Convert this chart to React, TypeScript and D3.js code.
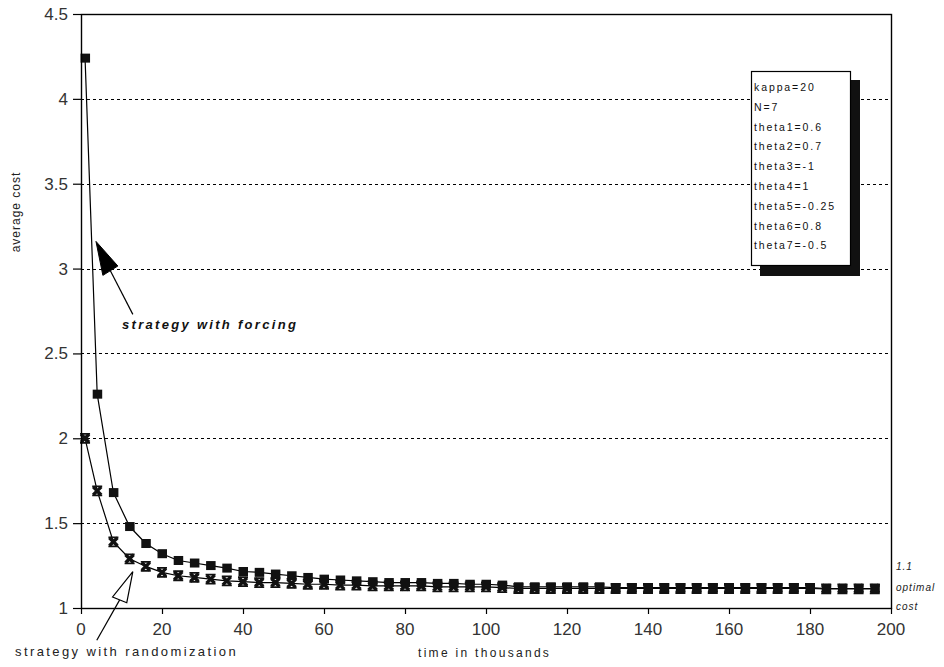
import React from 'react';
import * as d3 from 'd3';

const times = [1, 4, 8, 12, 16, 20, 24, 28, 32, 36, 40, 44, 48, 52, 56, 60, 64, 68, 72, 76, 80, 84, 88, 92, 96, 100,
    104, 108, 112, 116, 120, 124, 128, 132, 136, 140, 144, 148, 152, 156, 160, 164, 168, 172, 176, 180, 184, 188, 192, 196];

const forcing = [4.24, 2.26, 1.68, 1.48, 1.38, 1.32, 1.28, 1.265, 1.25, 1.235, 1.215, 1.21, 1.2, 1.19, 1.18, 1.17,
    1.165, 1.16, 1.155, 1.15, 1.15, 1.15, 1.145, 1.145, 1.14, 1.14, 1.135, 1.125, 1.125, 1.125, 1.125, 1.125, 1.125,
    1.12, 1.12, 1.12, 1.12, 1.12, 1.12, 1.12, 1.12, 1.12, 1.12, 1.12, 1.12, 1.12, 1.115, 1.115, 1.115, 1.115];

const randomization = [2.0, 1.69, 1.39, 1.29, 1.245, 1.21, 1.19, 1.18, 1.17, 1.16, 1.155, 1.15, 1.15, 1.145, 1.14,
    1.14, 1.135, 1.135, 1.13, 1.13, 1.13, 1.13, 1.125, 1.125, 1.125, 1.125, 1.12, 1.115, 1.115, 1.115, 1.115, 1.115,
    1.115, 1.115, 1.115, 1.115, 1.115, 1.115, 1.115, 1.115, 1.115, 1.115, 1.115, 1.115, 1.115, 1.115, 1.113, 1.113,
    1.113, 1.113];

const xTicks = [0, 20, 40, 60, 80, 100, 120, 140, 160, 180, 200];
const yTicks = [1, 1.5, 2, 2.5, 3, 3.5, 4, 4.5];
const gridValues = [1.5, 2, 2.5, 3, 3.5, 4];

const legendLines = ['kappa=20', 'N=7', 'theta1=0.6', 'theta2=0.7', 'theta3=-1', 'theta4=1',
    'theta5=-0.25', 'theta6=0.8', 'theta7=-0.5'];

// arrow annotations in data units: tip, two base corners, tail
const forcingArrow = {tip: [3.7, 3.16], b1: [5.4, 2.96], b2: [9.1, 3.015], tail: [12.8, 2.73]};
const randomArrow = {tip: [12.8, 1.214], b1: [7.8, 1.065], b2: [11.3, 1.031], tail: [3.9, 0.81]};

const W = 944;
const H = 667;

export default function App() {
    const x = d3.scaleLinear().domain([0, 200]).range([81, 891]);
    const y = d3.scaleLinear().domain([1, 4.5]).range([608, 14]);

    const line = d3.line<number>()
        .x((_, i) => x(times[i]))
        .y(d => y(d));

    const fmt = d3.format('~g');
    const labelFont = '"Liberation Sans", Arial, sans-serif';

    const arrowPts = (a) => [a.tip, a.b1, a.b2].map(p => `${x(p[0])},${y(p[1])}`).join(' ');
    const mid = (a) => [(x(a.b1[0]) + x(a.b2[0])) / 2, (y(a.b1[1]) + y(a.b2[1])) / 2];
    const fMid = mid(forcingArrow);
    const rMid = mid(randomArrow);

    return (
        <svg width={W} height={H} style={{position: 'absolute', left: 0, top: 0, background: '#fff'}}
             fontFamily={labelFont}>
            {/* grid */}
            <g stroke="#000" strokeWidth={1} strokeDasharray="3,3">
                {gridValues.map(v => (
                    <line key={v} x1={x(0)} x2={x(200)} y1={Math.round(y(v)) + 0.5} y2={Math.round(y(v)) + 0.5}/>
                ))}
            </g>

            {/* series lines */}
            <path d={line(forcing) ?? ''} fill="none" stroke="#000" strokeWidth={1.2}/>
            <path d={line(randomization) ?? ''} fill="none" stroke="#000" strokeWidth={1.2}/>

            {/* cross markers */}
            <g stroke="#111" fill="none">
                {randomization.map((v, i) => (
                    <g key={i} transform={`translate(${x(times[i])},${y(v)})`}>
                        <path d="M-4,-4L4,4M-4,4L4,-4" strokeWidth={3.4}/>
                        <path d="M-5,-4.5H5M-5,4.5H5" strokeWidth={1.8}/>
                    </g>
                ))}
            </g>

            {/* square markers */}
            <g fill="#111">
                {forcing.map((v, i) => (
                    <rect key={i} x={x(times[i]) - 4.5} y={y(v) - 4.5} width={9.5} height={9}/>
                ))}
            </g>

            {/* frame */}
            <rect x={x(0) + 0.5} y={y(4.5) + 0.5} width={x(200) - x(0)} height={y(1) - y(4.5)}
                  fill="none" stroke="#000" strokeWidth={1.4}/>

            {/* y axis ticks */}
            <g>
                {yTicks.map(v => (
                    <g key={v}>
                        <line x1={x(0) - 8} x2={x(0)} y1={y(v) + 0.5} y2={y(v) + 0.5} stroke="#000" strokeWidth={1.2}/>
                        <text x={68} y={y(v) + 6} textAnchor="end" fontSize={17} fill="#333">{fmt(v)}</text>
                    </g>
                ))}
            </g>

            {/* x axis ticks */}
            <g>
                {xTicks.map(v => (
                    <g key={v}>
                        <line x1={x(v) + 0.5} x2={x(v) + 0.5} y1={y(1)} y2={y(1) + 6} stroke="#000" strokeWidth={1.2}/>
                        <text x={x(v)} y={635} textAnchor="middle" fontSize={17} fill="#333">{fmt(v)}</text>
                    </g>
                ))}
            </g>

            {/* axis titles */}
            <text x={418} y={657} fontSize={12} letterSpacing={2.3} fill="#222">time in thousands</text>
            <text transform="translate(20,212) rotate(-90)" textAnchor="middle" fontSize={12}
                  letterSpacing={1} fill="#222">average cost</text>

            {/* optimal cost note */}
            <g fontSize={10} fontStyle="italic" letterSpacing={1} fill="#222">
                <text x={896} y={570}>1.1</text>
                <text x={896} y={591}>optimal</text>
                <text x={896} y={610}>cost</text>
            </g>

            {/* annotations */}
            <line x1={x(forcingArrow.tail[0])} y1={y(forcingArrow.tail[1])} x2={fMid[0]} y2={fMid[1]}
                  stroke="#000" strokeWidth={1.2}/>
            <polygon points={arrowPts(forcingArrow)} fill="#000" stroke="#000"/>
            <text x={122} y={329} fontSize={13} fontWeight="bold" fontStyle="italic" letterSpacing={2.3}
                  fill="#111">strategy with forcing</text>

            <line x1={x(randomArrow.tail[0])} y1={y(randomArrow.tail[1])} x2={rMid[0]} y2={rMid[1]}
                  stroke="#000" strokeWidth={1.2}/>
            <polygon points={arrowPts(randomArrow)} fill="#fff" stroke="#000" strokeWidth={1.2}/>
            <text x={15} y={656} fontSize={13} letterSpacing={2.4} fill="#222">strategy with randomization</text>

            {/* parameter box */}
            <rect x={760} y={80} width={100} height={196} fill="#111"/>
            <rect x={751.5} y={71.5} width={99} height={194} fill="#fff" stroke="#000" strokeWidth={1.2}/>
            <g fontSize={10.5} letterSpacing={1.9} fill="#111">
                {legendLines.map(t => t).map((t, i) => (
                    <text key={t} x={754} y={91 + i * 19.8}>{t}</text>
                ))}
            </g>
        </svg>
    );
}
